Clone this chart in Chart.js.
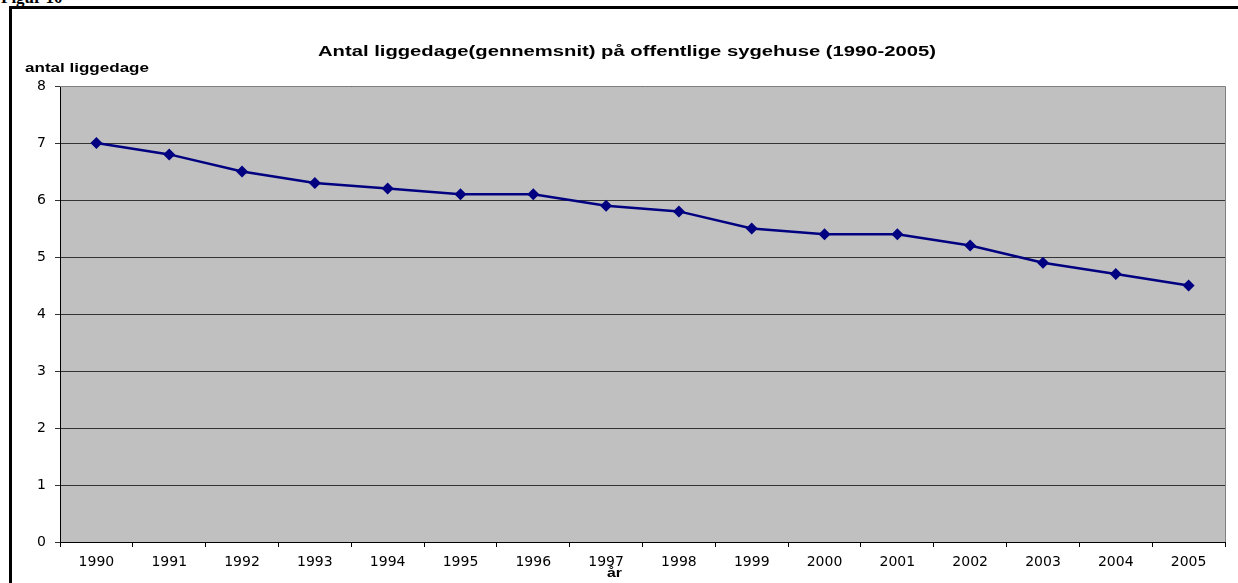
<!DOCTYPE html>
<html>
<head>
<meta charset="utf-8">
<script src="https://cdn.jsdelivr.net/npm/chart.js@4/dist/chart.umd.min.js"></script>
<style>
  body { margin: 0; background: #fff; overflow: hidden; }
  #wrap { position: relative; width: 1238px; height: 583px; }
  #figur { position: absolute; left: 1px; top: -12px; font: bold 17px "Liberation Serif", serif; color: #000; }
  #frame { position: absolute; left: 9px; top: 6px; width: 1260px; height: 620px; border: 3px solid #000; box-sizing: border-box; }
  canvas { position: absolute; left: 0; top: 0; }
</style>
</head>
<body>
<div id="wrap">
  <div id="figur">Figur 10</div>
  <div id="frame"></div>
  <canvas id="chart" width="1238" height="583"></canvas>
</div>
<script>
const years = ['1990', '1991', '1992', '1993', '1994', '1995', '1996', '1997', '1998', '1999', '2000', '2001', '2002', '2003', '2004', '2005'];
const liggedage = [7.0, 6.8, 6.5, 6.3, 6.2, 6.1, 6.1, 5.9, 5.8, 5.5, 5.4, 5.4, 5.2, 4.9, 4.7, 4.5];
const titleText = 'Antal liggedage(gennemsnit) på offentlige sygehuse (1990-2005)';
const yTitle = 'antal liggedage';
const xTitle = 'år';

// tekst i Arial, strakt vandret som i Excel-billedet
function stretchText(ctx, txt, x, y, w, font) {
  ctx.font = font;
  const m = ctx.measureText(txt).width;
  ctx.save();
  ctx.translate(x, y);
  ctx.scale(w / m, 1);
  ctx.textAlign = 'left';
  ctx.textBaseline = 'middle';
  ctx.fillText(txt, 0, 0);
  ctx.restore();
}

const extras = {
  id: 'extras',
  beforeDraw(chart) {
    const { ctx, chartArea: a } = chart;
    ctx.save();
    ctx.fillStyle = '#c0c0c0';
    ctx.fillRect(a.left, a.top, a.right - a.left, a.bottom - a.top);
    ctx.restore();
  },
  afterDraw(chart) {
    const { ctx, chartArea: a } = chart;
    ctx.save();
    ctx.strokeStyle = '#808080';
    ctx.lineWidth = 1;
    ctx.beginPath();
    ctx.moveTo(a.left, a.top + 0.5);
    ctx.lineTo(a.right + 0.5, a.top + 0.5);
    ctx.lineTo(a.right + 0.5, a.bottom);
    ctx.stroke();
    ctx.fillStyle = '#000';
    stretchText(ctx, titleText, 318, 52, 618, 'bold 14px "Liberation Sans"');
    stretchText(ctx, yTitle, 25, 69, 124, 'bold 12.5px "Liberation Sans"');
    stretchText(ctx, xTitle, 607, 574, 15, 'bold 12.5px "Liberation Sans"');
    ctx.restore();
  }
};

new Chart(document.getElementById('chart'), {
  type: 'line',
  data: {
    labels: years,
    datasets: [{
      data: liggedage,
      borderColor: '#000080',
      backgroundColor: '#000080',
      borderWidth: 2.5,
      pointStyle: 'rectRot',
      pointRadius: 6,
      pointBorderWidth: 0,
      tension: 0
    }]
  },
  options: {
    responsive: false,
    animation: false,
    layout: { padding: { left: 0, right: 13, top: 86, bottom: 0 } },
    plugins: { legend: { display: false }, title: { display: false }, tooltip: { enabled: false } },
    scales: {
      x: {
        offset: true,
        afterFit(s) { s.height = 41; },
        grid: { offset: true, drawOnChartArea: false, drawTicks: true, tickLength: 5, color: '#000' },
        border: { color: '#000', width: 1 },
        ticks: { color: '#000', font: { family: 'DejaVu Sans', size: 14 }, padding: 7, maxRotation: 0 }
      },
      y: {
        min: 0,
        max: 8,
        afterFit(s) { s.width = 60; },
        grid: { color: '#333', lineWidth: 1, tickLength: 5 },
        border: { color: '#000', width: 1 },
        ticks: { stepSize: 1, color: '#000', font: { family: 'DejaVu Sans', size: 14 }, padding: 9 }
      }
    }
  },
  plugins: [extras]
});
</script>
</body>
</html>
